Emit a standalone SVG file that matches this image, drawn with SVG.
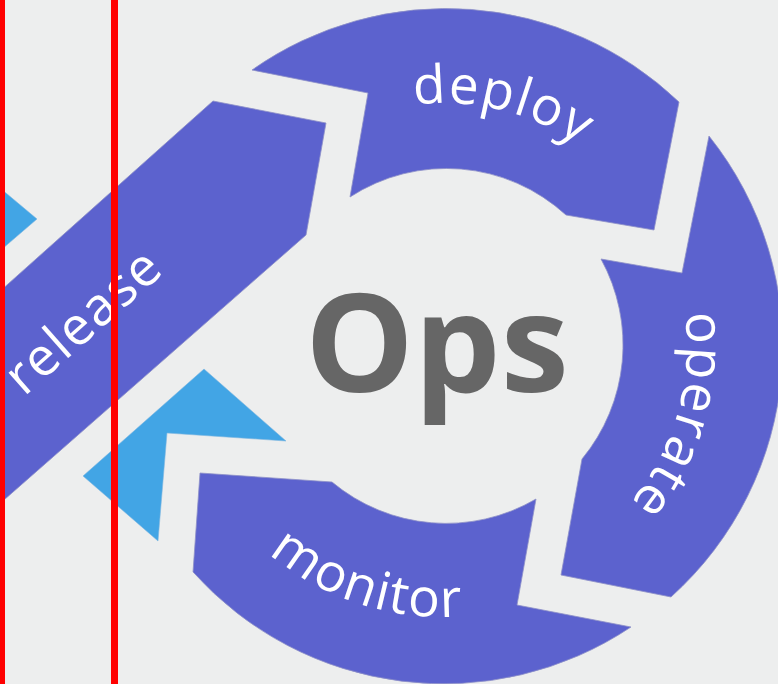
<svg xmlns="http://www.w3.org/2000/svg" xmlns:xlink="http://www.w3.org/1999/xlink" width="778" height="684" viewBox="0 0 778 684">
  <style>
    .seg { fill: #5C62CE; stroke: #8E91C8; stroke-width: 0.8; }
    .flow { fill: #42A5E5; stroke: #7FB7E0; stroke-width: 0.6; }
    .lbl { fill: #FFFFFF; font-family: "Open Sans", "Liberation Sans", sans-serif; font-size: 53px; font-weight: 400; letter-spacing: 1.5px; }
    .hub { fill: #666666; font-family: "Open Sans", "Liberation Sans", sans-serif; font-size: 137px; font-weight: 700; }
    .guide { fill: #FF0000; }
  </style>
  <defs>
    <!-- baseline arcs around the hub centre (443,346) -->
    <path id="arc-deploy" d="M 200 346 A 243 243 0 0 1 686 346"/>
    <path id="arc-operate" d="M 443 102 A 244 244 0 0 1 443 590"/>
    <path id="arc-monitor" d="M 172 346 A 271 271 0 0 0 714 346"/>
  </defs>

  <rect width="778" height="684" fill="#EDEEEE"/>

  <!-- incoming arrow fragments from the neighbouring loop -->
  <g id="links">
    <polygon class="flow" points="-6,183 37,219 -6,256"/>
    <polygon class="flow" points="204,369 286,441 167,433 158,541 83,476"/>
  </g>

  <g id="release">
    <path class="seg" d="M 213 101 L 326 123 L 306 235 L -20 521 L -20 309 Z"/>
    <text class="lbl" transform="translate(24,397) rotate(-41.5)">release</text>
  </g>

  <g id="deploy">
    <path class="seg" d="M 252 70 L 368 93 L 350 197 A 177 177 0 0 1 566 215 L 654 230 L 679 102 A 337 337 0 0 0 252 70 Z"/>
    <text class="lbl"><textPath xlink:href="#arc-deploy" href="#arc-deploy" startOffset="440" text-anchor="middle">deploy</textPath></text>
  </g>

  <g id="operate">
    <path class="seg" d="M 709 136 L 682 273 L 601 259 A 179 179 0 0 1 582 459 L 561 575 L 671 597 A 337 337 0 0 0 709 136 Z"/>
    <text class="lbl"><textPath xlink:href="#arc-operate" href="#arc-operate" startOffset="452" text-anchor="middle">operate</textPath></text>
  </g>

  <g id="monitor">
    <path class="seg" d="M 631 627 L 517 605 L 536 499 A 178 178 0 0 1 332 482 L 200 473 L 193 572 A 337 337 0 0 0 631 627 Z"/>
    <text class="lbl"><textPath xlink:href="#arc-monitor" href="#arc-monitor" startOffset="341" text-anchor="middle">monitor</textPath></text>
  </g>

  <g id="ops">
    <text class="hub" x="437" y="392" text-anchor="middle">Ops</text>
  </g>

  <!-- vertical guide lines -->
  <rect class="guide" x="0" y="0" width="5" height="684"/>
  <rect class="guide" x="111" y="0" width="7" height="684"/>
</svg>
